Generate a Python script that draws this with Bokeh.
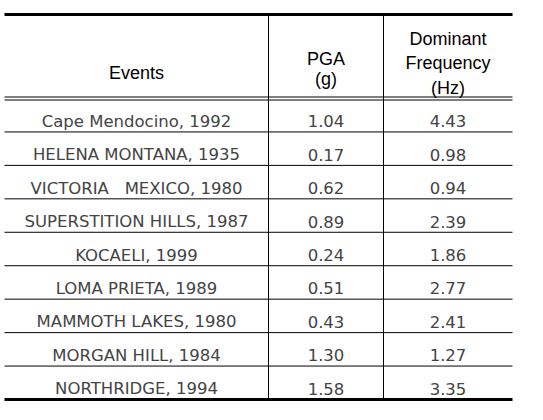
from bokeh.plotting import figure
from bokeh.models import Range1d, ColumnDataSource
from bokeh.core.properties import value
from bokeh.embed import file_html
from bokeh.resources import INLINE

events = ["Cape Mendocino, 1992", "HELENA MONTANA, 1935", "VICTORIA \u00a0 MEXICO, 1980",
          "SUPERSTITION HILLS, 1987", "KOCAELI, 1999", "LOMA PRIETA, 1989",
          "MAMMOTH LAKES, 1980", "MORGAN HILL, 1984", "NORTHRIDGE, 1994"]
pga = [1.04, 0.17, 0.62, 0.89, 0.24, 0.51, 0.43, 1.30, 1.58]
freq = [4.43, 0.98, 0.94, 2.39, 1.86, 2.77, 2.41, 1.27, 3.35]
header_lines = ["Events", "PGA", "(g)", "Dominant", "Frequency", "(Hz)"]
header_col = [0, 1, 1, 2, 2, 2]

# layout (page pixel coordinates)
X_LEFT, X_C1, X_C2, X_RIGHT = 4, 268, 383, 512
Y_TOP, Y_HEAD, Y_BOT = 14, 98, 399
ROW_H = (Y_BOT - Y_HEAD) / len(events)
HEAD_BASE = [72, 58, 78, 38, 62, 87]

p = figure(width=527, height=404, output_backend="svg", toolbar_location=None,
           x_range=Range1d(0, 527), y_range=Range1d(404, 0), min_border=0)
p.axis.visible = False
p.grid.visible = False
p.outline_line_color = None
p.background_fill_color = "white"
p.border_fill_color = "white"

# horizontal rules
p.segment(x0=[X_LEFT], x1=[X_RIGHT], y0=[Y_TOP], y1=[Y_TOP], line_color="black", line_width=3)
p.segment(x0=[X_LEFT], x1=[X_RIGHT], y0=[Y_BOT], y1=[Y_BOT], line_color="black", line_width=3)
p.segment(x0=[X_LEFT, X_LEFT], x1=[X_RIGHT, X_RIGHT], y0=[Y_HEAD - 1.5, Y_HEAD + 1.5],
          y1=[Y_HEAD - 1.5, Y_HEAD + 1.5], line_color="black", line_width=1)
row_lines = [Y_HEAD + ROW_H * (i + 1) for i in range(len(events) - 1)]
p.segment(x0=[X_LEFT] * len(row_lines), x1=[X_RIGHT] * len(row_lines),
          y0=row_lines, y1=row_lines, line_color="black", line_width=1)
# vertical rules
p.segment(x0=[X_C1, X_C2], x1=[X_C1, X_C2], y0=[Y_TOP, Y_TOP], y1=[Y_BOT, Y_BOT],
          line_color="black", line_width=1)

cx = [(X_LEFT + X_C1) / 2, (X_C1 + X_C2) / 2, (X_C2 + X_RIGHT) / 2]

# headers
head_src = ColumnDataSource(dict(x=[cx[c] for c in header_col], y=HEAD_BASE, t=header_lines))
p.text(x="x", y="y", text="t", source=head_src, text_align="center", text_baseline="alphabetic",
       text_font=value("Liberation Sans"), text_font_size="18px", text_color="#000000")

# body
ys = [Y_HEAD + ROW_H * (i + 0.5) + 6 for i in range(len(events))]
body = ColumnDataSource(dict(
    ev=events, pg=[f"{v:.2f}" for v in pga], fr=[f"{v:.2f}" for v in freq], y=ys,
    x0=[cx[0]] * len(events), x1=[cx[1]] * len(events), x2=[cx[2]] * len(events)))
for xcol, tcol in [("x0", "ev"), ("x1", "pg"), ("x2", "fr")]:
    p.text(x=xcol, y="y", text=tcol, source=body, text_align="center", text_baseline="alphabetic",
           text_font=value("DejaVu Sans"), text_font_size="16.5px", text_color="#444444")

open("out.html", "w").write(file_html(p, INLINE))
